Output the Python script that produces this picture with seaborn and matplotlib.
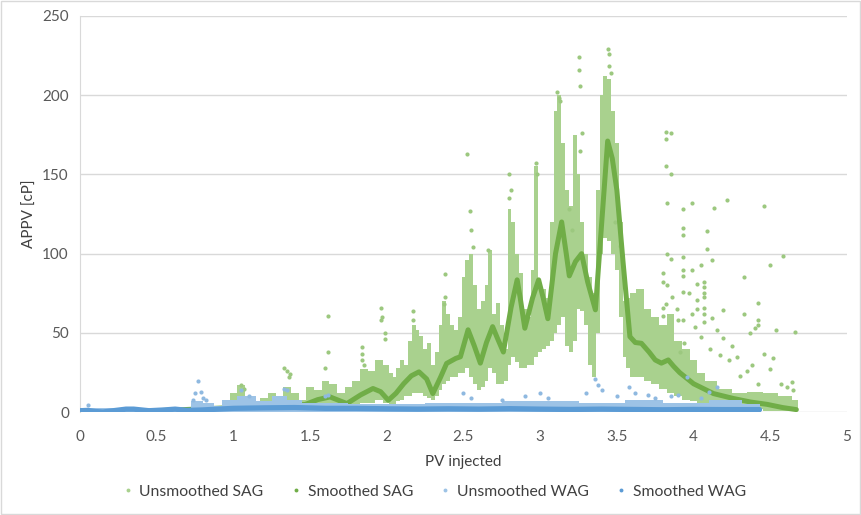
import numpy as np
import pandas as pd
import seaborn as sns
import matplotlib.pyplot as plt
from matplotlib.lines import Line2D
from matplotlib.patches import Rectangle

# ------------------------------------------------------------------ #
# data
# dense cloud of unsmoothed SAG points: column position, lower and upper edge
sag_band_x = [0.95, 1.00, 1.05, 1.10, 1.15, 1.20, 1.25, 1.30, 1.35, 1.40, 1.45,
              1.50, 1.55, 1.60, 1.65, 1.70, 1.75, 1.80, 1.85, 1.90, 1.95,
              2.000, 2.025, 2.050, 2.075, 2.100, 2.125, 2.150, 2.175, 2.200,
              2.225, 2.250, 2.275, 2.300, 2.325, 2.350, 2.375, 2.400, 2.425,
              2.450, 2.475, 2.500, 2.525, 2.550, 2.575, 2.600, 2.625, 2.650,
              2.675, 2.700, 2.725, 2.750, 2.775, 2.800, 2.825, 2.850, 2.875,
              2.900, 2.925, 2.950, 2.975, 3.000, 3.025, 3.050, 3.075, 3.100,
              3.125, 3.150, 3.175, 3.200, 3.225, 3.250, 3.275, 3.300, 3.325,
              3.350, 3.375, 3.400, 3.425, 3.450, 3.475, 3.500, 3.525, 3.550,
              3.575, 3.600, 3.65, 3.70, 3.75, 3.80, 3.85, 3.90, 3.95, 4.00,
              4.05, 4.10, 4.20, 4.30, 4.40, 4.50, 4.60, 4.68]
sag_band_lo = [0, 1, 2, 2, 1, 2, 2, 2, 3, 2, 1,
               3, 3, 4, 3, 3, 4, 5, 6, 6, 8,
               6, 5, 5, 7, 8, 10, 10, 12, 12,
               12, 10, 9, 8, 10, 14, 18, 20, 22,
               22, 25, 25, 28, 22, 18, 14, 16, 20,
               28, 25, 18, 18, 20, 30, 35, 32, 28,
               28, 30, 30, 35, 38, 40, 42, 45, 50,
               55, 60, 42, 38, 45, 65, 64, 55, 30,
               22, 50, 100, 110, 108, 100, 90, 60, 35,
               28, 22, 22, 20, 18, 15, 12, 10, 8, 7,
               5, 4, 3, 2, 2, 1, 1, 1]
sag_band_hi = [2, 12, 17, 10, 6, 9, 12, 10, 16, 12, 8,
               16, 14, 20, 18, 12, 16, 20, 27, 26, 33,
               30, 25, 22, 28, 33, 30, 45, 55, 52,
               48, 40, 44, 30, 38, 55, 70, 62, 55,
               52, 60, 85, 96, 100, 80, 65, 70, 80,
               102, 62, 69, 55, 40, 128, 120, 100, 88,
               65, 60, 90, 155, 80, 78, 72, 120, 190,
               200, 170, 140, 130, 175, 150, 120, 100, 85,
               75, 140, 200, 212, 210, 190, 170, 120, 70,
               72, 75, 78, 65, 60, 55, 62, 45, 40, 33,
               25, 20, 15, 12, 13, 12, 10, 8]

# sparse unsmoothed SAG points standing out of the cloud
sag_pts_x = [1.05, 1.07, 1.33, 1.35, 1.37, 1.36, 1.62, 1.62, 1.60, 1.84, 1.84,
             1.84, 1.85, 1.96, 1.96, 1.97, 1.99, 1.99, 2.17, 2.17, 2.38, 2.38,
             2.37, 2.52, 2.54, 2.55, 2.56, 2.66, 2.80, 2.81, 2.80, 2.97, 2.98,
             3.11, 3.12, 3.13, 3.25, 3.25, 3.26, 3.27, 3.26, 3.44, 3.45, 3.45,
             3.46, 3.49, 3.52, 3.19, 3.21,
             3.82, 3.85, 3.82, 3.82, 3.85, 3.83, 3.93, 3.99, 4.13, 4.22, 4.46,
             3.93, 3.93, 4.09, 4.09, 4.12, 3.83, 3.85, 3.93, 3.93, 3.99, 4.05,
             4.58, 4.50, 4.33, 3.80, 3.80, 3.83, 3.93, 3.93, 4.02, 4.07, 4.07,
             4.07, 4.07, 4.02, 3.86, 3.89, 3.82, 3.80, 3.80, 3.97, 4.02, 4.07,
             4.07, 4.19, 4.12, 3.99, 3.93, 3.90, 4.07, 4.01, 4.15, 4.19, 4.33,
             4.42, 4.42, 4.42, 4.40, 4.37, 4.54, 4.66, 4.05, 4.11, 4.17, 4.25,
             4.23, 4.28, 4.38, 4.46, 4.52, 4.50, 4.35, 4.30, 4.42, 4.57, 4.64,
             4.61, 4.65, 3.94, 3.91]
sag_pts_y = [17, 15, 28, 26, 24, 22, 61, 38, 28, 41, 37,
             33, 30, 66, 58, 60, 50, 46, 64, 58, 87, 73,
             68, 163, 127, 115, 104, 102, 150, 140, 135, 157, 150,
             202, 198, 196, 224, 216, 206, 176, 165, 229, 226, 218,
             214, 120, 105, 128, 115,
             177, 176, 172, 155, 150, 132, 128, 132, 129, 134, 130,
             116, 112, 114.5, 103, 96, 100, 96.5, 98, 90, 90, 93,
             98.5, 93, 85.5, 88, 82, 80, 86, 76, 80.7, 82, 79,
             75, 73, 71, 72.5, 65, 68, 66, 61, 75, 65, 66,
             62, 64.5, 59.6, 62, 58, 58, 57, 54, 52, 47, 62,
             69, 58, 55, 53, 50, 52, 50.5, 47.7, 40, 36, 42,
             33, 35, 30, 37, 34, 27, 26, 23, 18, 18, 19,
             16, 14, 44, 38]

# smoothed SAG
sag_smooth_x = [0.0, 0.5, 1.0, 1.2, 1.35, 1.47, 1.55, 1.63, 1.74, 1.83, 1.91,
                1.96, 2.01, 2.06, 2.11, 2.16, 2.21, 2.26, 2.30, 2.35, 2.39,
                2.45, 2.48, 2.53, 2.57, 2.61, 2.65, 2.69, 2.72, 2.76, 2.81,
                2.85, 2.87, 2.90, 2.95, 2.99, 3.02, 3.05, 3.10, 3.14, 3.17,
                3.19, 3.23, 3.27, 3.31, 3.36, 3.40, 3.44, 3.47, 3.50, 3.54,
                3.585, 3.62, 3.66, 3.71, 3.75, 3.79, 3.835, 3.87, 3.91, 4.00,
                4.13, 4.26, 4.37, 4.48, 4.58, 4.67]
sag_smooth_y = [1, 1, 3, 3.5, 4, 5, 8, 9.7, 5.5, 11, 15,
                13, 7.6, 12, 18, 23, 25.5, 21, 11.8, 22, 30.8,
                34, 35, 52, 42, 31, 44, 54, 47, 38, 66,
                83.5, 72, 53, 72, 83.5, 72, 59, 100, 120, 100,
                86, 95, 100, 82, 64.6, 118, 171, 160, 140, 95,
                47.7, 44, 43.5, 38, 33, 31, 33, 29, 25, 18,
                11.8, 8.7, 6.5, 5, 3, 1.7]

# dense cloud of unsmoothed WAG points (lower edge is 0)
wag_band_x = [0.0, 0.70, 0.75, 0.85, 0.90, 0.95, 1.10, 1.20, 1.30, 1.40, 1.50,
              2.00, 2.50, 3.00, 3.50, 3.60, 4.00, 4.20, 4.43]
wag_band_hi = [3, 3, 7, 6, 4, 8, 10, 7, 10, 8, 6,
               5, 6, 7, 6, 8, 6, 8, 5]

# sparse unsmoothed WAG points
wag_pts_x = [0.05, 0.75, 0.77, 0.79, 0.80, 0.74, 0.82, 1.05, 1.10, 1.33, 1.35,
             1.60, 1.62, 2.50, 2.55, 2.75, 2.90, 3.00, 3.05, 3.30, 3.36, 3.38,
             3.40, 3.50, 3.58, 3.62, 3.70, 3.75, 3.85, 3.90, 3.96, 4.05, 4.10,
             4.15]
wag_pts_y = [4.5, 12, 20, 13, 9, 8, 8, 14, 10, 15, 14,
             10, 11, 12, 9, 8, 10, 12, 9, 12, 21, 17,
             14, 10, 16, 12, 11, 9, 10, 11, 22, 9, 13,
             16]

# smoothed WAG
wag_smooth_x = [0.0, 0.05, 0.10, 0.15, 0.20, 0.30, 0.35, 0.45, 0.55, 0.62, 0.70,
                0.80, 0.90, 1.00, 1.20, 1.40, 1.60, 1.80, 2.00, 2.20, 2.40,
                2.60, 2.80, 3.00, 3.20, 3.40, 3.60, 3.80, 4.00, 4.20, 4.43]
wag_smooth_y = [1, 1.2, 0.5, 0.2, 0.8, 2, 2, 1, 1.5, 2, 1.2,
                1.5, 2, 2.5, 2.8, 3, 2.5, 2.5, 2.2, 2.0, 2.2,
                2.0, 2.3, 2.0, 1.8, 2.0, 1.8, 1.6, 1.8, 1.7, 1.7]

series_names = ['Unsmoothed SAG', 'Smoothed SAG', 'Unsmoothed WAG', 'Smoothed WAG']
series_colors = ['#a9d18e', '#70ad47', '#9dc3e6', '#5b9bd5']

# ------------------------------------------------------------------ #
sns.set_style('white')
plt.rcParams['font.family'] = ['Lato', 'DejaVu Sans']

fig = plt.figure(figsize=(8.61, 5.15), dpi=100)
ax = fig.add_axes([0.0929, 0.1994, 0.8908, 0.7701])

# unsmoothed SAG
ax.fill_between(sag_band_x, sag_band_lo, sag_band_hi, step='mid',
                color=series_colors[0], linewidth=0, zorder=2)
sag_pts = pd.DataFrame({'x': sag_pts_x, 'y': sag_pts_y})
sns.scatterplot(data=sag_pts, x='x', y='y', color='#9cc87f', s=9,
                linewidth=0, ax=ax, zorder=3)

# smoothed SAG
sag_smooth = pd.DataFrame({'x': sag_smooth_x, 'y': sag_smooth_y})
sns.lineplot(data=sag_smooth, x='x', y='y', color=series_colors[1], lw=3.6,
             ax=ax, zorder=4)

# unsmoothed WAG
ax.fill_between(wag_band_x, 0, wag_band_hi, step='mid',
                color=series_colors[2], linewidth=0, zorder=5)
wag_pts = pd.DataFrame({'x': wag_pts_x, 'y': wag_pts_y})
sns.scatterplot(data=wag_pts, x='x', y='y', color='#8fb9e0', s=9,
                linewidth=0, ax=ax, zorder=5)

# smoothed WAG
wag_smooth = pd.DataFrame({'x': wag_smooth_x, 'y': wag_smooth_y})
sns.lineplot(data=wag_smooth, x='x', y='y', color=series_colors[3], lw=3.8,
             ax=ax, zorder=6)

# axes styling
ax.set_xlim(0, 5)
ax.set_ylim(0, 250)
ax.set_xticks([0, 0.5, 1, 1.5, 2, 2.5, 3, 3.5, 4, 4.5, 5])
ax.set_xticklabels(['0', '0.5', '1', '1.5', '2', '2.5', '3', '3.5', '4', '4.5', '5'])
ax.set_yticks([0, 50, 100, 150, 200, 250])
ax.yaxis.grid(True, color='#d9d9d9', lw=1)
ax.set_axisbelow(True)
for side in ['top', 'right', 'bottom']:
    ax.spines[side].set_visible(False)
ax.spines['left'].set_color('#d9d9d9')
ax.tick_params(axis='y', length=0, labelsize=11, colors='#595959', pad=8)
ax.tick_params(axis='x', length=0, labelsize=11, colors='#595959', pad=13)
ax.set_xlabel('PV injected', fontsize=11, color='#404040', labelpad=8)
ax.set_ylabel('APPV [cP]', fontsize=11, color='#404040', labelpad=4)

handles = [Line2D([], [], marker='o', linestyle='none', markersize=2.8,
                  markerfacecolor=c, markeredgewidth=0) for c in series_colors]
fig.legend(handles, series_names, loc='center', bbox_to_anchor=(0.505, 0.045),
           ncol=4, frameon=False, fontsize=11.3, handlelength=0.5,
           handletextpad=0.5, columnspacing=1.8, labelcolor='#404040')

fig.add_artist(Rectangle((0.001, 0.001), 0.998, 0.998, transform=fig.transFigure,
                         fill=False, edgecolor='#d9d9d9', lw=1))

fig.savefig('out.png', dpi=100)
